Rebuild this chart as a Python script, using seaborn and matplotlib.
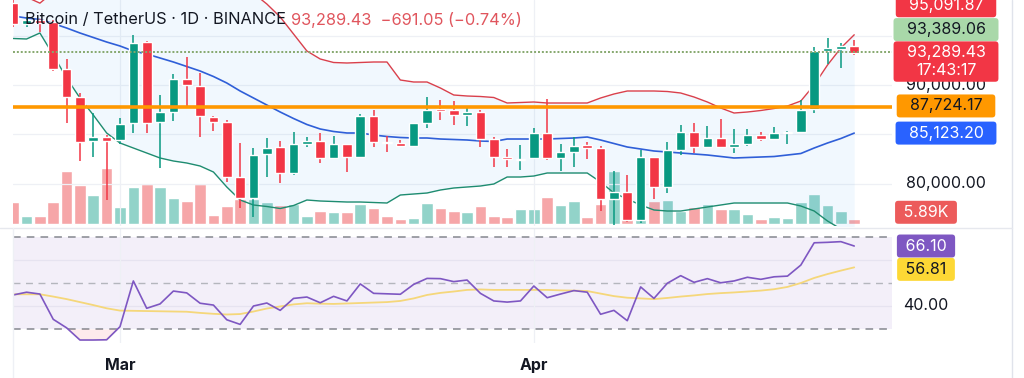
import matplotlib
matplotlib.use("Agg")
import matplotlib.pyplot as plt
from matplotlib.lines import Line2D
import numpy as np
import pandas as pd
import seaborn as sns

# ---- data ----
dates = pd.date_range("2025-02-21", "2025-04-25", freq="D")

opens = [98300, 96150, 96550, 96400, 91590, 88750, 84350, 84760, 84420, 86120,
         94390, 86280, 87300, 90610, 89900, 86790, 86280, 80700, 78510, 83000,
         83680, 81050, 84020, 84350, 82570, 84020, 82730, 86860, 84190, 84150,
         83850, 86120, 87570, 87470, 86960, 87300, 84490, 82730, 82400, 82570,
         85160, 82570, 83240, 83920, 83580, 78440, 79120, 76310, 82670, 79630,
         83410, 85270, 83750, 84600, 83690, 84020, 84930, 84490, 85100, 85200,
         87540, 93480, 93700, 93980]
highs = [99400, 96900, 96700, 96600, 92600, 89200, 87130, 84930, 86620, 95070,
         94500, 88990, 91115, 92870, 91250, 86860, 86500, 84150, 83580, 84600,
         84350, 85260, 84760, 85160, 84830, 84050, 87060, 87470, 84830, 84420,
         86180, 88750, 88480, 88380, 87800, 87470, 84760, 83480, 83920, 85610,
         88550, 84020, 84760, 84250, 83820, 81310, 80870, 83400, 82750, 84250,
         85940, 86120, 85840, 86520, 85510, 85510, 85200, 85710, 85300, 88480,
         93880, 94740, 94230, 94560]
lows = [95900, 95850, 95400, 91450, 86180, 82330, 82730, 78340, 84020, 85100,
        85160, 81550, 86380, 87800, 84760, 85370, 80200, 77500, 76650, 80700,
        80030, 80870, 83680, 82060, 82470, 81210, 82630, 83750, 83240, 83750,
        83800, 85610, 86450, 85940, 85840, 83680, 81720, 81720, 81380, 82450,
        82400, 81310, 81720, 82470, 77260, 75850, 76140, 76000, 78410, 79020,
        82900, 83070, 83580, 83600, 83140, 83820, 84350, 84420, 84020, 85150,
        87130, 92130, 91690, 93040]
closes = [96150, 96550, 96300, 91590, 88750, 84250, 84760, 84350, 86045, 94290,
          86180, 87300, 90610, 90000, 86860, 86280, 80700, 78510, 82900, 83640,
          81100, 83990, 84350, 82570, 84020, 82740, 86890, 84250, 84090, 83850,
          86110, 87470, 87400, 86960, 87230, 84490, 82730, 82470, 82530, 85160,
          82570, 83240, 83850, 83580, 78400, 79120, 76310, 82670, 79630, 83410,
          85270, 83750, 84600, 83690, 84020, 84930, 84490, 85100, 85270, 87470,
          93480, 93720, 93980, 93289.43]
volume_k = [27.9, 10.0, 10.0, 27.5, 66.3, 48.8, 36.3, 70.4, 21.6, 46.6,
            50.0, 46.6, 32.9, 29.1, 49.4, 11.3, 22.5, 31.3, 31.3, 27.5,
            23.8, 25.0, 10.0, 16.3, 15.4, 15.6, 24.6, 19.6, 10.6, 6.3,
            7.9, 26.3, 19.6, 16.3, 15.0, 23.1, 10.4, 8.8, 18.4, 18.4,
            34.1, 23.8, 28.8, 8.8, 24.6, 66.3, 25.0, 37.5, 28.8, 30.0,
            16.6, 21.6, 25.0, 18.4, 18.8, 12.1, 5.9, 8.4, 7.1, 27.1,
            37.5, 23.8, 16.6, 5.89]
bb_upper = [99285, 98915, 98300, 99428, 100850, 101864, 102676, 103587, 103791, 103284,
            103181, 102878, 102370, 101661, 101053, 100546, 100749, 100200, 99300, 98213,
            96900, 95172, 93448, 92636, 92282, 92231, 92282, 92332, 92332, 90507,
            90304, 90304, 89696, 88986, 88884, 88834, 88733, 88175, 88225, 88276,
            88175, 88175, 88175, 88175, 88682, 89087, 89392, 89392, 89392, 89341,
            89189, 88783, 88276, 87668, 87160, 87262, 87414, 87617, 87870, 88377,
            90000, 92028, 93752, 95091.87]
bb_basis = [97000, 96790, 96642, 96236, 95780, 95273, 94817, 94360, 93955, 93448,
            93143, 92738, 92332, 91876, 91420, 90862, 90203, 89392, 88682, 87972,
            87262, 86603, 85995, 85538, 85285, 85133, 85133, 84930, 84778, 84677,
            84626, 84626, 84524, 84474, 84423, 84322, 84272, 84524, 84524, 84524,
            84524, 84575, 84626, 84727, 84423, 84068, 83713, 83510, 83308, 83206,
            83105, 83004, 82902, 82750, 82598, 82649, 82699, 82750, 82902, 83054,
            83612, 84119, 84575, 85123.20]
bb_lower = [94715, 94665, 95273, 93044, 90710, 88682, 86958, 85133, 84119, 83612,
            83105, 82598, 82294, 82091, 81787, 81178, 79657, 78339, 77832, 77680,
            77477, 77781, 78339, 78237, 78187, 78136, 78136, 78085, 78035, 78846,
            78948, 79049, 79353, 79556, 79657, 79758, 79961, 80671, 80671, 80772,
            81077, 81077, 81077, 81077, 80164, 79049, 78440, 77832, 77325, 77223,
            77223, 77426, 77629, 77832, 78035, 78035, 78035, 78035, 78035, 77731,
            77224, 76210, 75398, 75155]
rsi = [44.8, 46.0, 45.2, 34.2, 30.5, 25.2, 25.2, 25.3, 31.0, 50.9,
       39.0, 40.9, 46.5, 45.7, 41.2, 40.4, 34.0, 32.0, 40.0, 41.3,
       38.1, 43.3, 43.9, 41.4, 44.2, 42.2, 49.6, 45.5, 45.3, 45.1,
       49.4, 52.0, 51.9, 50.6, 51.3, 45.5, 42.2, 41.7, 42.2, 48.7,
       43.6, 45.2, 46.7, 46.0, 36.4, 38.1, 33.6, 48.3, 43.3, 49.9,
       53.2, 50.3, 51.9, 50.1, 50.9, 52.5, 51.6, 52.7, 53.0, 57.8,
       67.5, 67.7, 68.0, 66.10]
rsi_ma = [45.1, 45.1, 45.1, 44.1, 43.0, 41.7, 40.4, 39.0, 38.0, 37.9,
          37.8, 37.7, 37.6, 37.5, 37.0, 36.6, 36.3, 36.5, 37.6, 38.9,
          39.8, 40.7, 41.2, 41.0, 40.9, 41.1, 41.3, 41.5, 41.7, 42.2,
          43.3, 44.8, 45.7, 46.3, 47.0, 47.2, 47.0, 47.0, 47.0, 47.0,
          47.0, 46.8, 46.7, 46.5, 45.4, 44.3, 43.6, 43.3, 43.0, 43.5,
          44.1, 44.6, 45.2, 45.6, 45.9, 46.3, 46.7, 47.3, 48.3, 50.0,
          52.2, 53.9, 55.4, 56.81]
hline_level = 87724.17
marker_level = 93389.06
title = "Bitcoin / TetherUS · 1D · BINANCE"
quote = "93,289.43  \u2212691.05 (\u22120.74%)"
countdown = "17:43:17"

# ---- style ----
sns.set_theme(style="white")
plt.rcParams["font.family"] = ["Inter", "DejaVu Sans"]
RED, GREEN = "#F23645", "#089981"
W, H = 1024, 378

df = pd.DataFrame({"x": np.arange(len(dates)), "open": opens, "high": highs,
                   "low": lows, "close": closes, "vol": volume_k,
                   "up": bb_upper, "mid": bb_basis, "dn": bb_lower,
                   "rsi": rsi, "rsi_ma": rsi_ma})
df["rising"] = df["close"] >= df["open"]

fig = plt.figure(figsize=(W / 100, H / 100), dpi=100)
left, right = 13 / W, 892 / W
main_rect = [left, 1 - 226 / H, right - left, 226 / H]
ax_vol = fig.add_axes(main_rect)
ax = fig.add_axes(main_rect)
ax.patch.set_visible(False)
ax_rsi = fig.add_axes([left, 1 - 343 / H, right - left, (343 - 229) / H])

xlim = (-0.015, 65.83)
month_ticks = [i for i, d in enumerate(dates) if d.day == 1]
month_labels = [dates[i].strftime("%b") for i in month_ticks]

# volume
vol_colors = np.where(df["rising"], "#92D3C9", "#F6A6A8")
ax_vol.bar(df["x"], df["vol"], width=0.87, color=vol_colors, zorder=2)
ax_vol.set_ylim(-2.5, 280)
ax_vol.set_xlim(*xlim)
ax_vol.axis("off")

# price panel
ax.set_xlim(*xlim)
ax.set_ylim(75703, 98619)
for lvl in [80000, 85000, 90000, 95000]:
    ax.axhline(lvl, color="#EEF0F5", lw=0.9, zorder=0)
for t in month_ticks:
    ax.axvline(t, color="#EEF0F5", lw=0.9, zorder=0)
ax.fill_between(df["x"], df["dn"], df["up"], color="#2196F3", alpha=0.06, lw=0, zorder=1)
sns.lineplot(data=df, x="x", y="up", ax=ax, color="#D9404C", lw=1.0, zorder=3)
sns.lineplot(data=df, x="x", y="mid", ax=ax, color="#2F5FD8", lw=1.2, zorder=3)
sns.lineplot(data=df, x="x", y="dn", ax=ax, color="#1E8C70", lw=1.0, zorder=3)

candle_colors = np.where(df["rising"], GREEN, RED)
ax.vlines(df["x"], df["low"], df["high"], colors=candle_colors, lw=1.1, zorder=4)
body_bottom = np.minimum(df["open"], df["close"])
body_h = np.maximum(np.abs(df["close"] - df["open"]), 110)
ax.bar(df["x"], body_h, bottom=body_bottom, width=0.72, color=candle_colors, zorder=5)

ax.axhline(hline_level, color="#FF9800", lw=2.6, zorder=6)
ax.axhline(marker_level, color="#86A86E", lw=1.4, ls=(0, (1, 1)), zorder=6)
ax.set_xlabel("")
ax.set_ylabel("")
ax.set_xticks([])
ax.set_yticks([])
for s in ax.spines.values():
    s.set_visible(False)

# rsi panel
ax_rsi.set_xlim(*xlim)
ax_rsi.set_ylim(23.9, 73.5)
ax_rsi.axhspan(30, 70, color="#7E57C2", alpha=0.09, lw=0, zorder=0)
for lvl in [40, 60]:
    ax_rsi.axhline(lvl, color="#E6E3F0", lw=0.9, zorder=1)
for t in month_ticks:
    ax_rsi.axvline(t, color="#EEF0F5", lw=0.9, zorder=1)
ax_rsi.axhline(70, color="#85878F", lw=1.1, ls=(0, (5, 4)), zorder=2)
ax_rsi.axhline(30, color="#85878F", lw=1.1, ls=(0, (5, 4)), zorder=2)
ax_rsi.axhline(50, color="#B4B6BD", lw=1.0, ls=(0, (5, 4)), zorder=2)
ax_rsi.fill_between(df["x"], df["rsi"], 30, where=df["rsi"] < 30, interpolate=True,
                    color=RED, alpha=0.10, lw=0, zorder=2)
sns.lineplot(data=df, x="x", y="rsi_ma", ax=ax_rsi, color="#F5D77A", lw=1.3, zorder=3)
sns.lineplot(data=df, x="x", y="rsi", ax=ax_rsi, color="#7E57C2", lw=1.2, zorder=4)
ax_rsi.set_xlabel("")
ax_rsi.set_ylabel("")
ax_rsi.set_yticks([])
ax_rsi.set_xticks(month_ticks)
ax_rsi.set_xticklabels(month_labels, fontsize=11.5, fontweight="bold", color="#131722")
ax_rsi.tick_params(axis="x", length=0, pad=11)
for s in ax_rsi.spines.values():
    s.set_visible(False)

# right-hand scale labels
def tag(axis, value, text, fc, tc, xc, dy=0, fs=11.5):
    kw = dict(xy=(xc, value), xycoords=("axes fraction", "data"),
              xytext=(0, dy), textcoords="offset pixels",
              ha="center", va="center", fontsize=fs, color=tc,
              annotation_clip=False, zorder=10)
    if fc is not None:
        kw["bbox"] = dict(boxstyle="round,pad=0.25,rounding_size=0.2", fc=fc, ec="none")
    axis.annotate(text, **kw)

xc_price = (946 - 13) / (892 - 13)
xc_small = (926 - 13) / (892 - 13)
tag(ax, 80000, "80,000.00", None, "#131722", xc_price)
tag(ax, 90000, "90,000.00", None, "#131722", xc_price)
tag(ax, bb_upper[-1], "  95,091.87  ", RED, "white", xc_price, dy=29)
tag(ax, marker_level, "  93,389.06  ", "#A9D8A9", "#131722", xc_price, dy=22)
tag(ax, closes[-1], f"  93,289.43  \n{countdown}", RED, "white", xc_price, dy=-9)
tag(ax, hline_level, "  87,724.17  ", "#FF9800", "#131722", xc_price, dy=1.5)
tag(ax, bb_basis[-1], "  85,123.20  ", "#2962FF", "white", xc_price)
tag(ax_vol, volume_k[-1], " 5.89K ", "#EC5B5B", "white", xc_small, dy=7)
tag(ax_rsi, rsi[-1], " 66.10 ", "#7E57C2", "white", xc_small)
tag(ax_rsi, rsi_ma[-1], " 56.81 ", "#FDD835", "#131722", xc_small, dy=-2)
tag(ax_rsi, 40, "40.00", None, "#131722", xc_small)

# header text
fig.text(25 / W, 1 - 20 / H, title, fontsize=11.8, color="#131722", va="center", ha="left")
fig.text(291 / W, 1 - 20 / H, quote, fontsize=11.8, color="#E0555D", va="center", ha="left")

# pane frame lines
fig.add_artist(Line2D([1012 / W, 1012 / W], [0, 1], color="#E0E3EB", lw=1))
fig.add_artist(Line2D([0, 1012 / W], [1 - 228 / H, 1 - 228 / H], color="#E6E8EE", lw=1))
fig.add_artist(Line2D([left, left], [0, 1 - 228 / H], color="#EEF0F5", lw=1))

fig.savefig("out.png", dpi=100)
